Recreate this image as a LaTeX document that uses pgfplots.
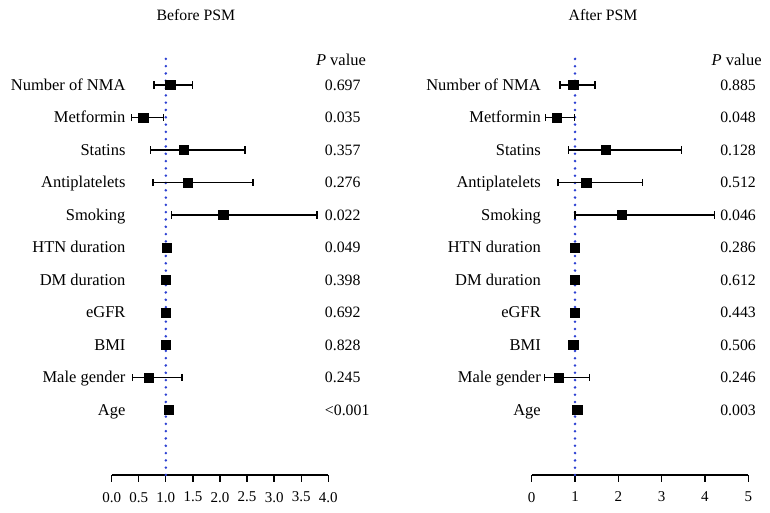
\documentclass[border=0pt]{standalone}
\usepackage{pgfplots}
\pgfplotsset{compat=1.18}
\usepackage{pgfplotstable}
\usepackage{fontspec}
\setmainfont{Liberation Serif}
\definecolor{dotblue}{RGB}{45,65,210}

\pgfplotstableread{
y  m    lo   hi
11 1.08 0.78 1.49
10 0.58 0.36 0.96
9  1.33 0.72 2.46
8  1.41 0.76 2.61
7  2.06 1.11 3.79
6  1.01 1.01 1.01
5  1.00 1.00 1.00
4  1.00 1.00 1.00
3  0.99 0.99 0.99
2  0.69 0.38 1.30
1  1.06 1.06 1.06
}\beforedata

\pgfplotstableread{
y  m    lo   hi
11 0.96 0.65 1.46
10 0.58 0.32 0.98
9  1.71 0.85 3.46
8  1.26 0.61 2.56
7  2.08 1.00 4.22
6  1.00 1.00 1.00
5  0.99 0.99 0.99
4  0.99 0.99 0.99
3  0.96 0.96 0.96
2  0.63 0.30 1.34
1  1.05 1.05 1.05
}\afterdata

\newcommand{\fs}{\fontsize{16.5}{19}\selectfont}
\newcommand{\fp}{\fontsize{15.8}{19}\selectfont}
\newcommand{\ft}{\fontsize{15}{18}\selectfont}

\tikzset{
  lab/.style={font=\fs, anchor=base east, inner sep=0, yshift=-5.5pt},
  pv/.style={font=\fp, anchor=base west, inner sep=0, yshift=-5.5pt},
}

\pgfplotsset{
  forest/.style={
    scale only axis,
    width=216.6pt, height=422.5pt,
    anchor=south west,
    ymin=-1, ymax=12,
    axis x line=bottom,
    axis y line=none,
    axis line style={-, line width=1.3pt, black},
    tick align=outside,
    major tick length=7pt,
    x tick style={line width=1.3pt, black},
    tick label style={font=\ft},
    xticklabel style={yshift=-6.5pt},
    /pgf/number format/assume math mode=true,
    clip=false,
  },
  fp/.style={
    only marks, mark=square*, mark size=4.6pt, black,
    error bars/.cd, x dir=both, x explicit,
    error mark=|,
    error bar style={line width=1.3pt, black},
    error mark options={line width=1.3pt, mark size=3.6pt, black},
  },
  dotline/.style={color=dotblue, line width=2.8pt, dash pattern=on 0pt off 7.3pt, line cap=round},
}

\begin{document}
\begin{tikzpicture}[x=1pt,y=1pt]
\path[use as bounding box] (0,0) rectangle (770,513);

% ---------- Before PSM ----------
\begin{axis}[forest, at={(111.7pt,38pt)},
  xmin=0, xmax=4,
  xtick={0,0.5,...,4},
  xticklabel style={/pgf/number format/.cd, fixed, fixed zerofill, precision=1},
]
\addplot[dotline] coordinates {(1,-1) (1,11.92)};
\addplot[fp] table[x=m, y=y,
  x error plus expr=\thisrow{hi}-\thisrow{m},
  x error minus expr=\thisrow{m}-\thisrow{lo}] {\beforedata};
\node[lab] at (axis cs:0.258,11) {Number of NMA};
\node[lab] at (axis cs:0.258,10) {Metformin};
\node[lab] at (axis cs:0.258,9) {Statins};
\node[lab] at (axis cs:0.258,8) {Antiplatelets};
\node[lab] at (axis cs:0.258,7) {Smoking};
\node[lab] at (axis cs:0.258,6) {HTN duration};
\node[lab] at (axis cs:0.258,5) {DM duration};
\node[lab] at (axis cs:0.258,4) {eGFR};
\node[lab] at (axis cs:0.258,3) {BMI};
\node[lab] at (axis cs:0.258,2) {Male gender};
\node[lab] at (axis cs:0.258,1) {Age};
\node[pv, font=\fs] at (axis cs:3.77,11.77) {\textit{P} value};
\node[pv] at (axis cs:3.935,11) {0.697};
\node[pv] at (axis cs:3.935,10) {0.035};
\node[pv] at (axis cs:3.935,9) {0.357};
\node[pv] at (axis cs:3.935,8) {0.276};
\node[pv] at (axis cs:3.935,7) {0.022};
\node[pv] at (axis cs:3.935,6) {0.049};
\node[pv] at (axis cs:3.935,5) {0.398};
\node[pv] at (axis cs:3.935,4) {0.692};
\node[pv] at (axis cs:3.935,3) {0.828};
\node[pv] at (axis cs:3.935,2) {0.245};
\node[pv] at (axis cs:3.935,1) {<0.001};
\node[font=\fp, anchor=base, inner sep=0] at (axis cs:1.555,12.98) {Before PSM};
\end{axis}

% ---------- After PSM ----------
\begin{axis}[forest, at={(531.7pt,38pt)},
  xmin=0, xmax=5,
  xtick={0,1,...,5},
]
\addplot[dotline] coordinates {(1,-1) (1,11.92)};
\addplot[fp] table[x=m, y=y,
  x error plus expr=\thisrow{hi}-\thisrow{m},
  x error minus expr=\thisrow{m}-\thisrow{lo}] {\afterdata};
\node[lab] at (axis cs:0.215,11) {Number of NMA};
\node[lab] at (axis cs:0.215,10) {Metformin};
\node[lab] at (axis cs:0.215,9) {Statins};
\node[lab] at (axis cs:0.215,8) {Antiplatelets};
\node[lab] at (axis cs:0.215,7) {Smoking};
\node[lab] at (axis cs:0.215,6) {HTN duration};
\node[lab] at (axis cs:0.215,5) {DM duration};
\node[lab] at (axis cs:0.215,4) {eGFR};
\node[lab] at (axis cs:0.215,3) {BMI};
\node[lab] at (axis cs:0.215,2) {Male gender};
\node[lab] at (axis cs:0.215,1) {Age};
\node[pv, font=\fs] at (axis cs:4.15,11.77) {\textit{P} value};
\node[pv] at (axis cs:4.349,11) {0.885};
\node[pv] at (axis cs:4.349,10) {0.048};
\node[pv] at (axis cs:4.349,9) {0.128};
\node[pv] at (axis cs:4.349,8) {0.512};
\node[pv] at (axis cs:4.349,7) {0.046};
\node[pv] at (axis cs:4.349,6) {0.286};
\node[pv] at (axis cs:4.349,5) {0.612};
\node[pv] at (axis cs:4.349,4) {0.443};
\node[pv] at (axis cs:4.349,3) {0.506};
\node[pv] at (axis cs:4.349,2) {0.246};
\node[pv] at (axis cs:4.349,1) {0.003};
\node[font=\fp, anchor=base, inner sep=0] at (axis cs:1.647,12.98) {After PSM};
\end{axis}
\end{tikzpicture}
\end{document}
